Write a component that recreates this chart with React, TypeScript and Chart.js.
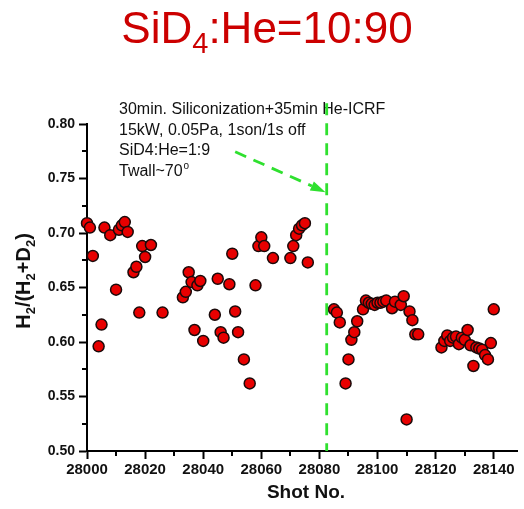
import React, { useEffect, useRef } from 'react';
import { Chart, registerables } from 'chart.js';

Chart.register(...registerables);

const FONT = '"Liberation Sans", Arial, Helvetica, sans-serif';

// Shots before the SiD4 siliconization (left of the dashed marker)
const shotsBefore = [
  28000, 28001, 28002, 28004, 28005, 28006, 28008, 28010, 28011, 28012,
  28013, 28014, 28016, 28017, 28018, 28019, 28020, 28022, 28026, 28033,
  28034, 28035, 28036, 28037, 28038, 28039, 28040, 28044, 28045, 28046,
  28047, 28049, 28050, 28051, 28052, 28054, 28056, 28058, 28059, 28060,
  28061, 28064, 28070, 28071, 28072, 28073, 28074, 28075, 28076,
];
const ratioBefore = [
  0.709, 0.705, 0.679, 0.596, 0.616, 0.705, 0.698, 0.648, 0.703, 0.707,
  0.710, 0.701, 0.664, 0.669, 0.627, 0.688, 0.678, 0.689, 0.627, 0.641,
  0.646, 0.664, 0.655, 0.611, 0.652, 0.656, 0.601, 0.625, 0.658, 0.609,
  0.604, 0.653, 0.681, 0.628, 0.609, 0.584, 0.562, 0.652, 0.688, 0.696,
  0.688, 0.677, 0.677, 0.688, 0.698, 0.704, 0.707, 0.709, 0.673,
];

// Shots after the siliconization
const shotsAfter = [
  28085, 28086, 28087, 28089, 28090, 28091, 28092, 28093, 28095, 28096,
  28097, 28098, 28099, 28100, 28101, 28102, 28103, 28105, 28106, 28108,
  28109, 28110, 28111, 28112, 28113, 28114,
  28122, 28123, 28124, 28125, 28126, 28127, 28128, 28129, 28130, 28131,
  28132, 28133, 28134, 28135, 28136, 28137, 28138, 28139, 28140,
];
const ratioAfter = [
  0.630, 0.627, 0.618, 0.562, 0.584, 0.602, 0.609, 0.619, 0.630, 0.638,
  0.636, 0.635, 0.634, 0.636, 0.636, 0.637, 0.638, 0.631, 0.637, 0.634,
  0.642, 0.529, 0.628, 0.620, 0.607, 0.607,
  0.595, 0.601, 0.606, 0.601, 0.604, 0.605, 0.598, 0.604, 0.602, 0.611,
  0.597, 0.578, 0.595, 0.594, 0.593, 0.588, 0.584, 0.599, 0.630,
];

const xTickValues = [28000, 28020, 28040, 28060, 28080, 28100, 28120, 28140];
const xMinorTickValues = [28010, 28030, 28050, 28070, 28090, 28110, 28130];
const yTickValues = [0.5, 0.55, 0.6, 0.65, 0.7, 0.75, 0.8];
const yMinorTickValues = [0.525, 0.575, 0.625, 0.675, 0.725, 0.775];

const xMin = 28000;
const xMax = 28148;
const yMin = 0.5;
const yMax = 0.8;

const markerShot = 28082.5;
const markerTop = 0.819;
const arrowStart = { x: 28051, y: 0.7745 };
const arrowEnd = { x: 28082.1, y: 0.7375 };

const noteLines = [
  '30min. Siliconization+35min He-ICRF',
  '15kW, 0.05Pa, 1son/1s off',
  'SiD4:He=1:9',
  'Twall~70',
];

type Seg = { t: string; size: number; dy: number };

function drawSegs(ctx: CanvasRenderingContext2D, segs: Seg[], cx: number, baseY: number, weight: string, color: string) {
  let total = 0;
  for (const s of segs) {
    ctx.font = `${weight} ${s.size}px ${FONT}`;
    total += ctx.measureText(s.t).width;
  }
  let x = cx - total / 2;
  ctx.fillStyle = color;
  ctx.textAlign = 'left';
  ctx.textBaseline = 'alphabetic';
  for (const s of segs) {
    ctx.font = `${weight} ${s.size}px ${FONT}`;
    ctx.fillText(s.t, x, baseY + s.dy);
    x += ctx.measureText(s.t).width;
  }
}

const decorPlugin = {
  id: 'decor',
  afterDraw(chart: any) {
    const ctx: CanvasRenderingContext2D = chart.ctx;
    const xs = chart.scales.x;
    const ys = chart.scales.y;
    const area = chart.chartArea;
    ctx.save();

    // minor ticks
    ctx.strokeStyle = '#000';
    ctx.lineWidth = 2;
    ctx.beginPath();
    for (const v of xMinorTickValues) {
      const px = Math.round(xs.getPixelForValue(v));
      ctx.moveTo(px, area.bottom);
      ctx.lineTo(px, area.bottom + 5);
    }
    for (const v of yMinorTickValues) {
      const py = Math.round(ys.getPixelForValue(v));
      ctx.moveTo(area.left, py);
      ctx.lineTo(area.left - 5, py);
    }
    ctx.stroke();

    // chart title
    drawSegs(ctx, [
      { t: 'SiD', size: 44, dy: 0 },
      { t: '4', size: 29, dy: 10 },
      { t: ':He=10:90', size: 44, dy: 0 },
    ], 267, 43, 'normal', '#cc0000');

    // x axis title
    ctx.font = `bold 19px ${FONT}`;
    ctx.fillStyle = '#111';
    ctx.textAlign = 'center';
    ctx.textBaseline = 'alphabetic';
    ctx.fillText('Shot No.', 306, 498);

    // y axis title (rotated)
    ctx.save();
    ctx.translate(30, 281);
    ctx.rotate(-Math.PI / 2);
    drawSegs(ctx, [
      { t: 'H', size: 20, dy: 0 },
      { t: '2', size: 13, dy: 5 },
      { t: '/(H', size: 20, dy: 0 },
      { t: '2', size: 13, dy: 5 },
      { t: '+D', size: 20, dy: 0 },
      { t: '2', size: 13, dy: 5 },
      { t: ')', size: 20, dy: 0 },
    ], 0, 0, 'bold', '#111');
    ctx.restore();

    // notes
    ctx.font = `normal 16px ${FONT}`;
    ctx.fillStyle = '#111';
    ctx.textAlign = 'left';
    ctx.textBaseline = 'alphabetic';
    const noteX = 119;
    const noteY0 = 114;
    const lh = 20.7;
    noteLines.forEach((line, i) => {
      ctx.font = `normal 16px ${FONT}`;
      ctx.fillText(line, noteX, noteY0 + i * lh);
      if (i === noteLines.length - 1) {
        const w = ctx.measureText(line).width;
        ctx.font = `normal 10px ${FONT}`;
        ctx.fillText('o', noteX + w + 1, noteY0 + i * lh - 7);
      }
    });

    // green dashed marker line and arrow
    const green = '#2fe02f';
    ctx.strokeStyle = green;
    ctx.fillStyle = green;
    ctx.lineWidth = 2.8;
    ctx.setLineDash([12, 8]);
    const mx = xs.getPixelForValue(markerShot);
    ctx.beginPath();
    ctx.moveTo(mx, ys.getPixelForValue(markerTop));
    ctx.lineTo(mx, ys.getPixelForValue(yMin));
    ctx.stroke();

    const ax0 = xs.getPixelForValue(arrowStart.x);
    const ay0 = ys.getPixelForValue(arrowStart.y);
    const ax1 = xs.getPixelForValue(arrowEnd.x);
    const ay1 = ys.getPixelForValue(arrowEnd.y);
    const ang = Math.atan2(ay1 - ay0, ax1 - ax0);
    const headLen = 15;
    const headW = 5;
    const bx = ax1 - headLen * Math.cos(ang);
    const by = ay1 - headLen * Math.sin(ang);
    ctx.beginPath();
    ctx.moveTo(ax0, ay0);
    ctx.lineTo(bx, by);
    ctx.stroke();
    ctx.setLineDash([]);
    ctx.beginPath();
    ctx.moveTo(ax1, ay1);
    ctx.lineTo(bx + headW * Math.sin(ang), by - headW * Math.cos(ang));
    ctx.lineTo(bx - headW * Math.sin(ang), by + headW * Math.cos(ang));
    ctx.closePath();
    ctx.fill();

    ctx.restore();
  },
};

export default function App() {
  const canvasRef = useRef<HTMLCanvasElement | null>(null);

  useEffect(() => {
    if (!canvasRef.current) return;
    const pointStyle = {
      pointRadius: 5.5,
      pointBorderWidth: 1.5,
      pointBackgroundColor: '#e80000',
      pointBorderColor: '#1a0a0a',
      showLine: false,
      clip: false as any,
    };
    const chart = new Chart(canvasRef.current, {
      type: 'scatter',
      data: {
        datasets: [
          {
            label: 'before',
            data: shotsBefore.map((s, i) => ({ x: s, y: ratioBefore[i] })),
            ...pointStyle,
          },
          {
            label: 'after',
            data: shotsAfter.map((s, i) => ({ x: s, y: ratioAfter[i] })),
            ...pointStyle,
          },
        ],
      },
      options: {
        animation: false,
        responsive: true,
        maintainAspectRatio: false,
        layout: { padding: { left: 0, top: 124, right: 3, bottom: 0 } },
        plugins: { legend: { display: false }, tooltip: { enabled: false } },
        scales: {
          x: {
            type: 'linear',
            min: xMin,
            max: xMax,
            afterBuildTicks: (s: any) => {
              s.ticks = xTickValues.map((v) => ({ value: v }));
            },
            afterFit: (s: any) => {
              s.height = 58;
            },
            grid: {
              display: true,
              drawOnChartArea: false,
              drawTicks: true,
              tickLength: 8,
              tickWidth: 2,
              tickColor: '#000',
            },
            border: { display: true, color: '#000', width: 2 },
            ticks: {
              autoSkip: false,
              maxRotation: 0,
              padding: 2,
              color: '#111',
              font: { family: FONT, size: 15, weight: 'bold' },
              callback: (v: any) => String(v),
            },
          },
          y: {
            type: 'linear',
            min: yMin,
            max: yMax,
            afterBuildTicks: (s: any) => {
              s.ticks = yTickValues.map((v) => ({ value: v }));
            },
            afterFit: (s: any) => {
              s.width = 87;
            },
            grid: {
              display: true,
              drawOnChartArea: false,
              drawTicks: true,
              tickLength: 8,
              tickWidth: 2,
              tickColor: '#000',
            },
            border: { display: true, color: '#000', width: 2 },
            ticks: {
              padding: 4,
              color: '#111',
              font: { family: FONT, size: 14, weight: 'bold' },
              callback: (v: any) => Number(v).toFixed(2),
            },
          },
        },
      } as any,
      plugins: [decorPlugin],
    });
    return () => chart.destroy();
  }, []);

  return (
    <div style={{ position: 'absolute', left: 0, top: 0, width: 524, height: 509, background: '#fff' }}>
      <canvas ref={canvasRef} />
    </div>
  );
}
